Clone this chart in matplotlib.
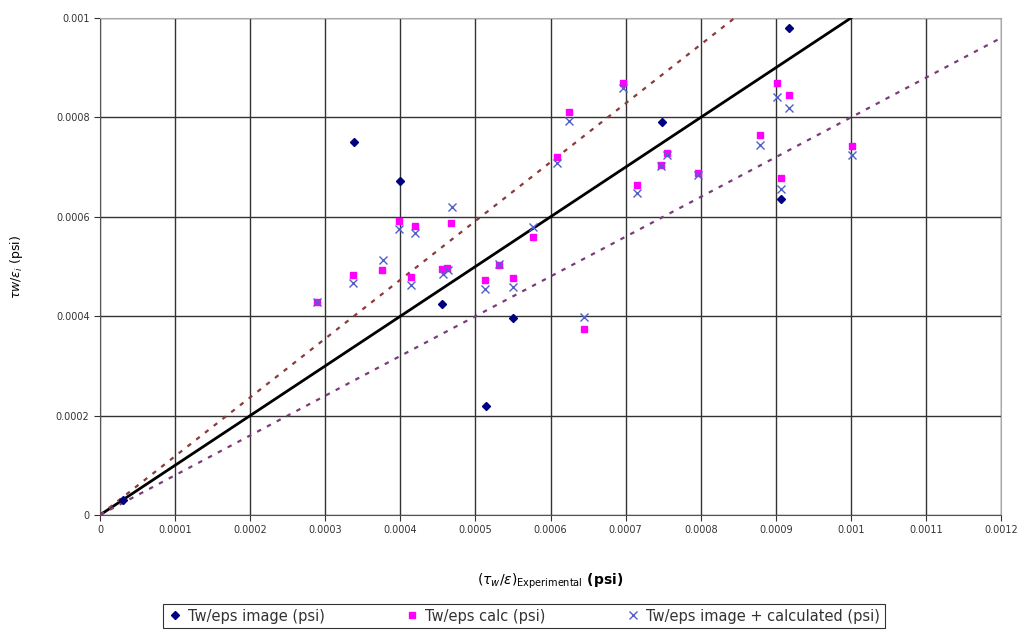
import numpy as np
import matplotlib
matplotlib.use("Agg")
import matplotlib.pyplot as plt

# data
# ---

# Tw/eps image (psi)
image_x = [0.00003, 0.000338, 0.0004, 0.000456, 0.000514, 0.00055, 0.000748, 0.000907, 0.000918]
image_y = [0.00003, 0.00075, 0.000673, 0.000424, 0.00022, 0.000396, 0.00079, 0.000635, 0.00098]

# Tw/eps calc (psi)
calc_x = [0.000289, 0.000337, 0.000375, 0.000398, 0.000414, 0.000419, 0.000455, 0.000462,
          0.000468, 0.000513, 0.000532, 0.00055, 0.000576, 0.000609, 0.000625, 0.000644,
          0.000697, 0.000715, 0.000747, 0.000755, 0.000796, 0.000879, 0.000902, 0.000907,
          0.000917, 0.001001]
calc_y = [0.000429, 0.000482, 0.000492, 0.000592, 0.000479, 0.000581, 0.000495, 0.000497,
          0.000588, 0.000473, 0.000503, 0.000476, 0.000559, 0.000721, 0.000811, 0.000374,
          0.000869, 0.000664, 0.000704, 0.000728, 0.000689, 0.000765, 0.000869, 0.000679,
          0.000845, 0.000742]

# Tw/eps image + calculated (psi)
comb_x = [0.000289, 0.000337, 0.000377, 0.000398, 0.000414, 0.000419, 0.000457, 0.000464,
          0.000469, 0.000513, 0.000532, 0.00055, 0.000576, 0.000609, 0.000625, 0.000644,
          0.000697, 0.000715, 0.000747, 0.000755, 0.000796, 0.000879, 0.000902, 0.000907,
          0.000917, 0.001001]
comb_y = [0.000428, 0.000466, 0.000514, 0.000575, 0.000463, 0.000568, 0.000485, 0.000492,
          0.00062, 0.000454, 0.000505, 0.000458, 0.00058, 0.000708, 0.000793, 0.000399,
          0.00086, 0.000647, 0.000703, 0.000725, 0.000685, 0.000744, 0.000842, 0.000655,
          0.000818, 0.000724]

# reference lines: 1:1, +20 %, -20 %
ref_x = [0, 0.001]
ref_y = [0, 0.001]
upper_x = [0, 0.0012]
upper_y = [0, 0.00142]
lower_x = [0, 0.0012]
lower_y = [0, 0.00096]

x_ticks = [0, 0.0001, 0.0002, 0.0003, 0.0004, 0.0005, 0.0006, 0.0007, 0.0008, 0.0009, 0.001, 0.0011, 0.0012]
x_labels = ["0", "0.0001", "0.0002", "0.0003", "0.0004", "0.0005", "0.0006", "0.0007",
            "0.0008", "0.0009", "0.001", "0.0011", "0.0012"]
y_ticks = [0, 0.0002, 0.0004, 0.0006, 0.0008, 0.001]
y_labels = ["0", "0.0002", "0.0004", "0.0006", "0.0008", "0.001"]


# plot
# ---

fig = plt.figure(figsize=(10.31, 6.41), dpi=100)
ax = fig.add_axes([0.097, 0.1966, 0.874, 0.7753])

ax.plot(ref_x, ref_y, color="black", lw=2, zorder=3)
ax.plot(upper_x, upper_y, color="#8B3A3A", lw=1.6, dashes=(2, 3), zorder=3)
ax.plot(lower_x, lower_y, color="#7B3B7B", lw=1.6, dashes=(2, 3), zorder=3)

ax.plot(image_x, image_y, ls="none", marker="D", ms=4, color="#000080",
        label="Tw/eps image (psi)", zorder=4)
ax.plot(calc_x, calc_y, ls="none", marker="s", ms=5, color="#FF00FF",
        label="Tw/eps calc (psi)", zorder=5)
ax.plot(comb_x, comb_y, ls="none", marker="x", ms=6, mew=1, color="#5060C8",
        label="Tw/eps image + calculated (psi)", zorder=6)

ax.set_xlim(0, 0.0012)
ax.set_ylim(0, 0.001)
ax.set_xticks(x_ticks)
ax.set_xticklabels(x_labels)
ax.set_yticks(y_ticks)
ax.set_yticklabels(y_labels)
ax.tick_params(direction="out", length=4, labelsize=7, colors="#333333")

ax.grid(True, color="#333333", lw=1)
ax.set_axisbelow(True)
for side in ["top", "right"]:
    ax.spines[side].set_color("#aaaaaa")
for side in ["left", "bottom"]:
    ax.spines[side].set_color("#555555")

ax.set_xlabel(r"$(\tau_w/\varepsilon)_{\mathrm{Experimental}}$ (psi)", fontsize=10,
              fontweight="bold", labelpad=26)
ax.set_ylabel(r"$\tau w/\varepsilon_i$ (psi)", fontsize=9, labelpad=22)

leg = fig.legend(loc="center", bbox_to_anchor=(0.508, 0.039), ncol=3, fontsize=10.5,
                 frameon=True, fancybox=False, edgecolor="black", handlelength=1,
                 handletextpad=0.4, columnspacing=5.5, borderpad=0.3,
                 labelcolor="#333333")
leg.get_frame().set_linewidth(0.8)

fig.savefig("out.png", dpi=100)
plt.close(fig)
